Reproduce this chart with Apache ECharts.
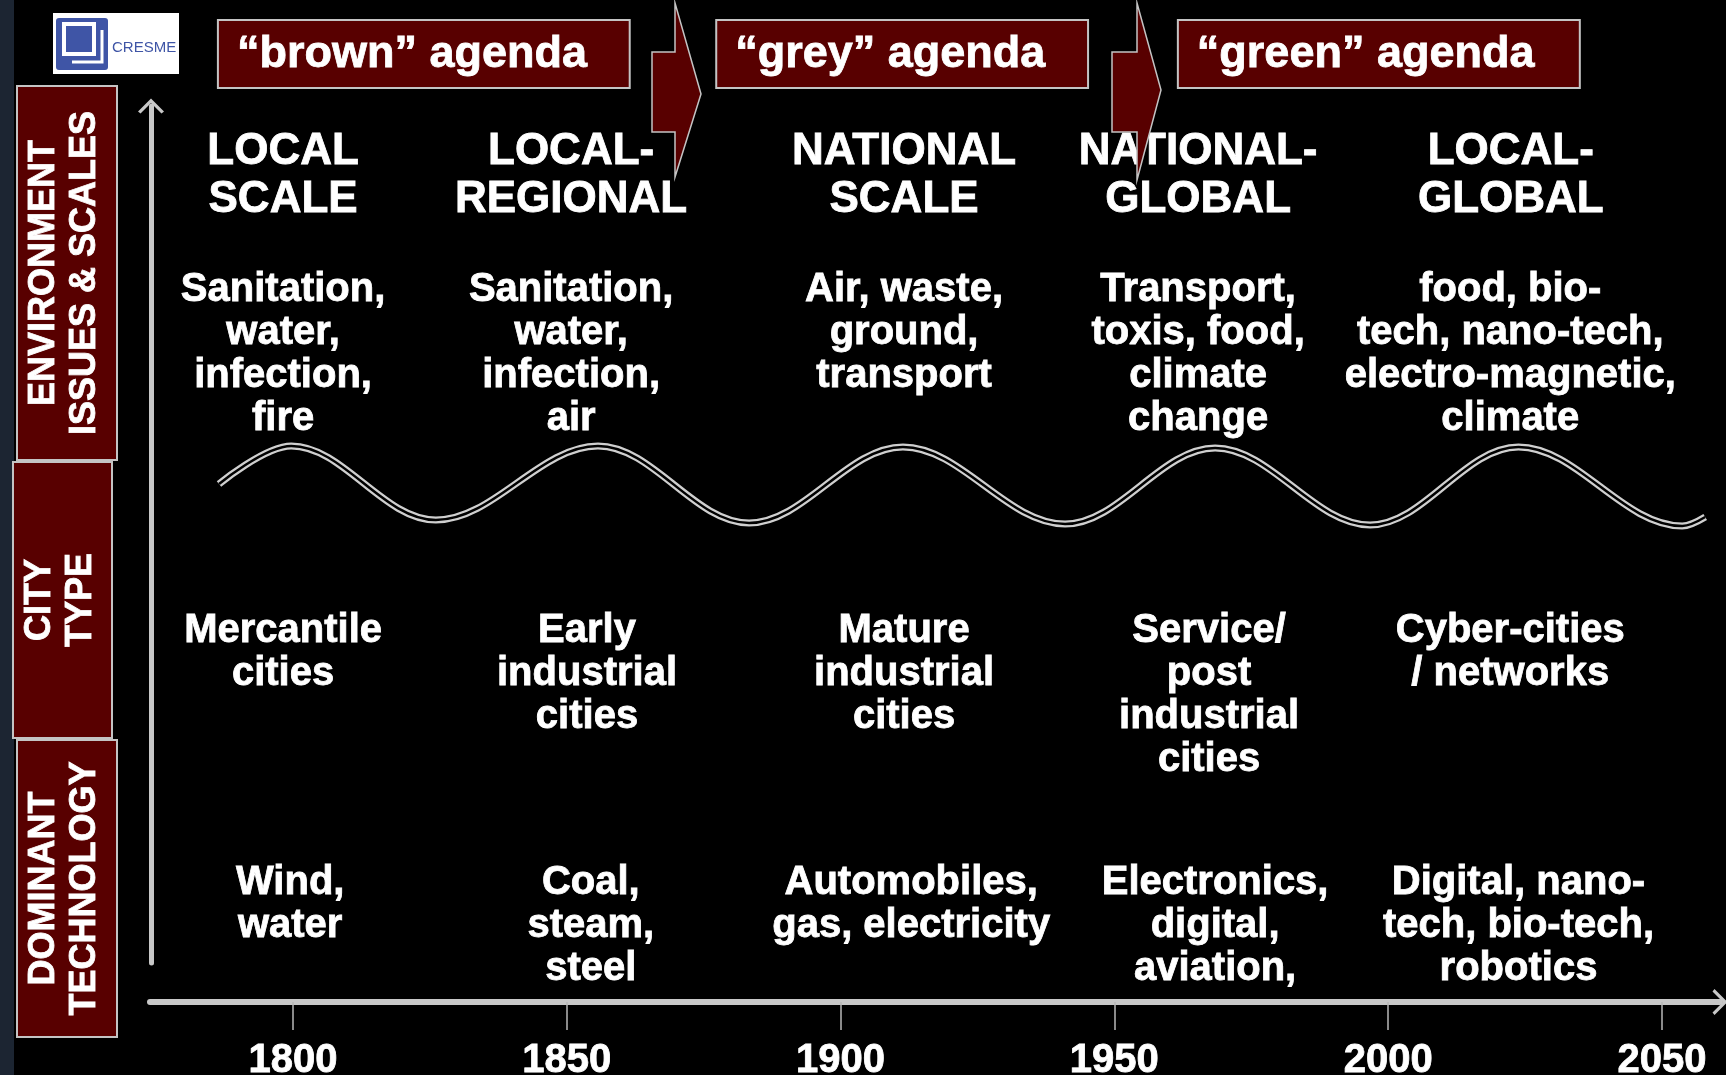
<!DOCTYPE html>
<html>
<head>
<meta charset="utf-8">
<script src="https://cdn.jsdelivr.net/npm/echarts@6/dist/echarts.min.js"></script>
<style>
  html, body { margin: 0; padding: 0; background: #000; }
  #main { width: 1726px; height: 1075px; }
</style>
</head>
<body>
<div id="main"></div>
<script>
// timeline ticks
const years = [1800, 1850, 1900, 1950, 2000, 2050]

// agenda banners (start / end year they cover)
const agendas = ['“brown” agenda', '“grey” agenda', '“green” agenda']
const agendaStart = [1786.3, 1877.3, 1961.6]
const agendaEnd = [1861.5, 1945.2, 2035.0]

// environment issues & scales
const scales = ['LOCAL\nSCALE', 'LOCAL-\nREGIONAL', 'NATIONAL\nSCALE', 'NATIONAL-\nGLOBAL', 'LOCAL-\nGLOBAL']
const scaleYears = [1798.2, 1850.8, 1911.6, 1965.3, 2022.4]
const issues = [
  'Sanitation,\nwater,\ninfection,\nfire',
  'Sanitation,\nwater,\ninfection,\nair',
  'Air, waste,\nground,\ntransport',
  'Transport,\ntoxis, food,\nclimate\nchange',
  'food, bio-\ntech, nano-tech,\nelectro-magnetic,\nclimate'
]
const issueYears = [1798.2, 1850.8, 1911.6, 1965.3, 2022.3]

// city type
const cityTypes = [
  'Mercantile\ncities',
  'Early\nindustrial\ncities',
  'Mature\nindustrial\ncities',
  'Service/\npost\nindustrial\ncities',
  'Cyber-cities\n/ networks'
]
const cityYears = [1798.2, 1853.7, 1911.6, 1967.3, 2022.3]

// dominant technology
const technologies = [
  'Wind,\nwater',
  'Coal,\nsteam,\nsteel',
  'Automobiles,\ngas, electricity',
  'Electronics,\ndigital,\naviation,',
  'Digital, nano-\ntech, bio-tech,\nrobotics'
]
const techYears = [1799.5, 1854.4, 1912.9, 1968.4, 2023.8]

// wave: start, peaks / troughs, end
const waveYears = [1786.5, 1799.7, 1826.1, 1855.7, 1883.3, 1911.4, 1941.0, 1968.4, 1996.7, 2023.8, 2053.7, 2057.9]
const waveLevels = [484, 446, 520, 446, 523, 447, 524, 448, 525, 447, 526, 517]

const FONT = '"Liberation Sans", Arial, sans-serif'
const MAROON = '#580000'
const BORDER = '#c4c4c4'
const chevron = 'path://M0,13 L13,0 L26,13 L23.5,15 L13,4.5 L2.5,15 Z'

function textRow (texts, xs, top, size, lh) {
  return {
    type: 'scatter',
    silent: true,
    symbolSize: 1,
    itemStyle: { color: 'rgba(0,0,0,0)', opacity: 1 },
    data: texts.map((t, i) => ({ name: t, value: [xs[i], top] })),
    label: {
      show: true,
      position: 'inside',
      formatter: '{b}',
      align: 'center',
      verticalAlign: 'top',
      color: '#fff',
      textBorderColor: '#fff',
      textBorderWidth: 0.8,
      fontFamily: FONT,
      fontWeight: 'bold',
      fontSize: size,
      lineHeight: lh
    },
    z: 5
  }
}

function sideLabel (x, y, w, h, text) {
  return [
    { type: 'rect', shape: { x: x, y: y, width: w, height: h }, style: { fill: MAROON, stroke: BORDER, lineWidth: 2 }, z: 2 },
    {
      type: 'text', x: x + w / 2 - 2, y: y + h / 2, rotation: Math.PI / 2, z: 3,
      style: { text: text, align: 'center', verticalAlign: 'middle', fill: '#fff', stroke: '#fff', lineWidth: 0.8, font: 'bold 36px ' + FONT, lineHeight: 41 }
    }
  ]
}

function blockArrow (x0, x1, tip, top, bottom, headTop, headBottom, tipY) {
  return {
    type: 'polygon', z: 20,
    shape: { points: [[x0, top], [x1, top], [x1, headTop], [tip, tipY], [x1, headBottom], [x1, bottom], [x0, bottom]] },
    style: { fill: MAROON, stroke: BORDER, lineWidth: 1.5 }
  }
}

const chart = echarts.init(document.getElementById('main'))

const option = {
  backgroundColor: '#000',
  animation: false,
  grid: [
    { left: 150, right: 6, top: 0, bottom: 73, outerBoundsMode: 'none', containLabel: false },
    { left: 151, top: 106, bottom: 112, width: 10, outerBoundsMode: 'none', containLabel: false }
  ],
  xAxis: [
    {
      gridIndex: 0,
      type: 'value',
      min: 1773.9,
      max: 2060.6,
      splitLine: { show: false },
      axisLine: {
        show: true,
        onZero: false,
        symbol: ['none', chevron],
        symbolSize: [26, 15],
        lineStyle: { color: '#c8c8c8', width: 6 }
      },
      axisTick: { show: true, customValues: years, length: 28, lineStyle: { color: '#b8b8b8', width: 1.5 } },
      axisLabel: {
        customValues: years,
        formatter: (v) => String(v),
        color: '#fff',
        textBorderColor: '#fff',
        textBorderWidth: 0.8,
        fontFamily: FONT,
        fontWeight: 'bold',
        fontSize: 40,
        margin: 39
      }
    },
    { gridIndex: 1, type: 'value', min: 0, max: 1, show: false }
  ],
  yAxis: [
    { gridIndex: 0, type: 'value', min: 0, max: 1002, inverse: true, show: false },
    {
      gridIndex: 1,
      type: 'value',
      min: 0,
      max: 1,
      splitLine: { show: false },
      axisTick: { show: false },
      axisLabel: { show: false },
      axisLine: {
        show: true,
        onZero: false,
        symbol: ['none', chevron],
        symbolSize: [26, 15],
        lineStyle: { color: '#c8c8c8', width: 5 }
      }
    }
  ],
  graphic: [
    { type: 'rect', shape: { x: 0, y: 0, width: 14, height: 1075 }, style: { fill: '#1c2532' }, z: 1 },
    // logo
    { type: 'rect', shape: { x: 53, y: 13, width: 126, height: 61 }, style: { fill: '#fff' }, z: 2 },
    { type: 'rect', shape: { x: 56, y: 18, width: 52, height: 52, r: 3 }, style: { fill: '#3f55a6' }, z: 3 },
    { type: 'rect', shape: { x: 64, y: 24, width: 30, height: 30 }, style: { fill: 'none', stroke: '#fff', lineWidth: 4 }, z: 4 },
    { type: 'polyline', shape: { points: [[72, 62], [102, 62], [102, 30]] }, style: { stroke: '#fff', lineWidth: 3, fill: 'none' }, z: 4 },
    { type: 'text', x: 112, y: 48, z: 4, style: { text: 'CRESME', fill: '#3f55a6', font: '15px "Liberation Sans Narrow", ' + FONT, verticalAlign: 'middle' } },
    ...sideLabel(17, 86, 100, 374, 'ENVIRONMENT\nISSUES & SCALES'),
    ...sideLabel(13, 462, 99, 276, 'CITY\nTYPE'),
    ...sideLabel(17, 740, 100, 297, 'DOMINANT\nTECHNOLOGY'),
    blockArrow(652, 675, 701, 52, 132, 3, 177, 94),
    blockArrow(1112, 1137, 1161, 52, 132, 3, 180, 90)
  ],
  series: [
    {
      type: 'custom',
      silent: true,
      z: 10,
      data: agendas.map((a, i) => [agendaStart[i], agendaEnd[i]]),
      renderItem: (params, api) => {
        const p0 = api.coord([api.value(0), 20])
        const p1 = api.coord([api.value(1), 88])
        return {
          type: 'group',
          children: [
            { type: 'rect', shape: { x: p0[0], y: p0[1], width: p1[0] - p0[0], height: p1[1] - p0[1] }, style: { fill: MAROON, stroke: BORDER, lineWidth: 2 } },
            {
              type: 'text',
              x: p0[0] + 19,
              y: (p0[1] + p1[1]) / 2 + 1,
              style: { text: agendas[params.dataIndex], fill: '#fff', stroke: '#fff', lineWidth: 0.8, font: 'bold 45px ' + FONT, verticalAlign: 'middle' }
            }
          ]
        }
      }
    },
    {
      type: 'line',
      silent: true,
      smooth: 0.36,
      showSymbol: false,
      data: waveYears.map((y, i) => [y, waveLevels[i]]),
      lineStyle: { color: '#cfcfcf', width: 7 },
      z: 3
    },
    {
      type: 'line',
      silent: true,
      smooth: 0.36,
      showSymbol: false,
      data: waveYears.map((y, i) => [y, waveLevels[i]]),
      lineStyle: { color: '#000', width: 2.5 },
      z: 4
    },
    textRow(scales, scaleYears, 128, 44, 48),
    textRow(issues, issueYears, 268, 40, 43),
    textRow(cityTypes, cityYears, 609.5, 40, 43),
    textRow(technologies, techYears, 861, 40, 43)
  ]
}

chart.setOption(option)
</script>
</body>
</html>
